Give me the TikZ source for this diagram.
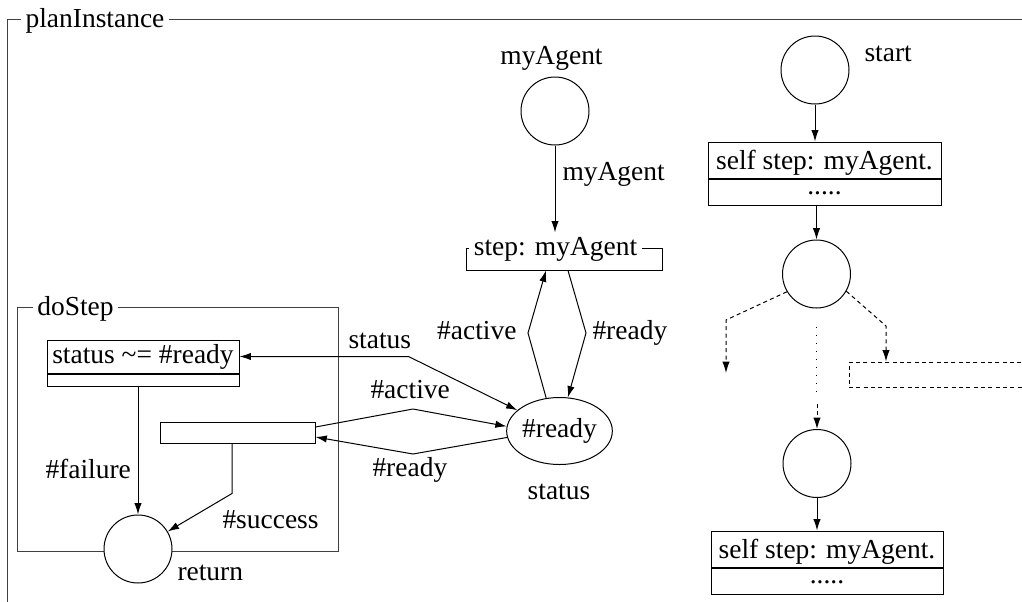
\documentclass[tikz,border=0pt]{standalone}
\usepackage{fontspec}
\setmainfont{LiberationSerif}[Extension=.ttf,UprightFont=*-Regular,BoldFont=*-Bold,ItalicFont=*-Italic]
\usetikzlibrary{arrows.meta,shapes.geometric,calc}

\begin{document}
\begin{tikzpicture}[x=0.75pt,y=-0.75pt,line width=0.75pt,
  every node/.style={font=\rmfamily\fontsize{20.6}{24}\selectfont},
  arr/.style={-{Latex[length=8.5pt,width=5.5pt]}},
  dblarr/.style={{Latex[length=8.5pt,width=5.5pt]}-{Latex[length=8.5pt,width=5.5pt]}},
  state/.style={draw,circle,fill=white,minimum size=51pt,inner sep=0pt},
  frameline/.style={draw=black!75},
  framelabel/.style={anchor=base,inner sep=3pt},
  lbl/.style={inner sep=0pt},
  slotbox/.style={draw,fill=white,inner sep=0pt,text height=20.25pt,text depth=6.75pt},
  dotsbox/.style={draw,fill=white,inner sep=0pt,text height=11.25pt,text depth=8.25pt},
  dashedline/.style={dash pattern=on 3pt off 2.5pt},
  dottedline/.style={dash pattern=on 0.75pt off 5.25pt}]

\useasboundingbox (0,0) rectangle (1022,601);
\clip (0,0) rectangle (1022,601);

% ---- outer frame: planInstance ----
\node[inner sep=0pt,minimum width=760.5pt,minimum height=435.75pt] (planframe) at (515,310.5) {};
\node[framelabel] (planlbl) at (95,27.5) {planInstance};
\draw[frameline] (planframe.south west) -- (planframe.north west) -- (planlbl.west |- planframe.north);
\draw[frameline] (planlbl.east |- planframe.north) -- (planframe.north east);

% ---- inner frame: doStep ----
\node[inner sep=0pt,minimum width=240pt,minimum height=182.25pt] (dsframe) at (178,429.5) {};
\node[framelabel] (dslbl) at (75.5,315.5) {doStep};
\draw[frameline] (dslbl.west |- dsframe.north) -- (dsframe.north west) -- (dsframe.south west)
  -- (dsframe.south east) -- (dsframe.north east) -- (dslbl.east |- dsframe.north);

% ---- frame: step: myAgent ----
\node[inner sep=0pt,minimum width=146.25pt,minimum height=15.75pt] (stepframe) at (564.5,259.5) {};
\node[framelabel] (steplbl) at (555.5,255) {step: myAgent};
\draw (steplbl.west |- stepframe.north) -- (stepframe.north west) -- (stepframe.south west)
  -- (stepframe.south east) -- (stepframe.north east) -- (steplbl.east |- stepframe.north);

% ---- nodes of the middle part ----
\node[state] (agent) at (555,111) {};
\node[lbl,anchor=base] at (551.5,64) {myAgent};
\node[draw,ellipse,fill=white,inner sep=0pt,minimum width=72.75pt,minimum height=50.25pt] (ready) at (559.5,431) {\#ready};
\node[lbl,anchor=base] at (559,499) {status};

% ---- nodes inside doStep ----
\node[draw,fill=white,inner sep=0pt,minimum width=144pt,text height=17.25pt,text depth=7.5pt] (condtop) at (143,356.5) {status \textasciitilde= \#ready};
\node[draw,fill=white,inner sep=0pt,minimum width=144pt,minimum height=9pt,anchor=north] (condbot) at (condtop.south) {};
\node[draw,fill=white,inner sep=0pt,minimum width=116.25pt,minimum height=15.75pt] (actbox) at (237.5,432.5) {};
\node[state] (ret) at (138,549) {};
\node[lbl,anchor=base west] at (177,580) {return};

% ---- right column ----
\node[state] (start) at (815,70) {};
\node[lbl,anchor=base west] at (864,61) {start};
\node[slotbox,minimum width=174.75pt] (sendtop) at (824.5,160) {self step: myAgent.};
\node[dotsbox,minimum width=174.75pt,anchor=north] (sendbot) at (sendtop.south) {.....};
\node[state] (mid) at (816.5,274) {};
\node[draw,dashedline,inner sep=0pt,minimum width=143.25pt,minimum height=18.75pt] (nextbox) at (944.5,374.5) {};
\coordinate (leftend) at (726,373);
\coordinate (rbend) at (886,326);
\node[state] (last) at (817,463.5) {};
\node[slotbox,minimum width=174pt] (send2top) at (827,549) {self step: myAgent.};
\node[dotsbox,minimum width=174pt,anchor=north] (send2bot) at (send2top.south) {.....};

% ---- connectors: agent and step ----
\draw[arr] (agent) -- (agent |- steplbl.north);
\node[lbl,anchor=base west] at (562,180) {myAgent};
\draw[arr] (ready.112) -- (528,333) -- ($(stepframe.south)+(-18.5,0)$);
\draw[arr] ($(stepframe.south)+(3.5,0)$) -- (586,333) -- (ready.76);
\node[lbl,anchor=base east] at (517,339) {\#active};
\node[lbl,anchor=base west] at (592,339) {\#ready};

% ---- connectors: doStep and status ----
\draw[dblarr] (condtop.east) -- ++(169,0) -- (ready);
\node[lbl,anchor=base west] at (348,348) {status};
\draw[arr] ($(actbox.east)+(0,-5.5)$) -- (413,409) -- (ready.175);
\node[lbl,anchor=base west] at (370,398) {\#active};
\draw[arr] (ready.187) -- (413,454) -- ($(actbox.east)+(0,4.5)$);
\node[lbl,anchor=base west] at (372,476) {\#ready};
\draw[arr] (ret |- condbot.south) -- (ret);
\node[lbl,anchor=base west] at (45,478) {\#failure};
\draw[arr] ($(actbox.south)+(-5.5,0)$) -- ++(0,50) -- (ret);
\node[lbl,anchor=base west] at (222,528) {\#success};

% ---- connectors: right column ----
\draw[arr] (start) -- (start |- sendtop.north);
\draw[arr] (sendbot.south -| mid) -- (mid);
\draw[arr,dashedline] (mid.211) -- (726,320) -- (leftend);
\draw[arr,dashedline] (mid.330) -- (rbend) -- (rbend |- nextbox.north);
\draw[dottedline] ($(mid.south)+(0,18)$) -- ($(mid.south)+(0,88)$);
\draw[arr,dashedline] ($(last.north)+(0,-25)$) -- (last.north);
\draw[arr] (last) -- (last |- send2top.north);
\end{tikzpicture}
\end{document}
